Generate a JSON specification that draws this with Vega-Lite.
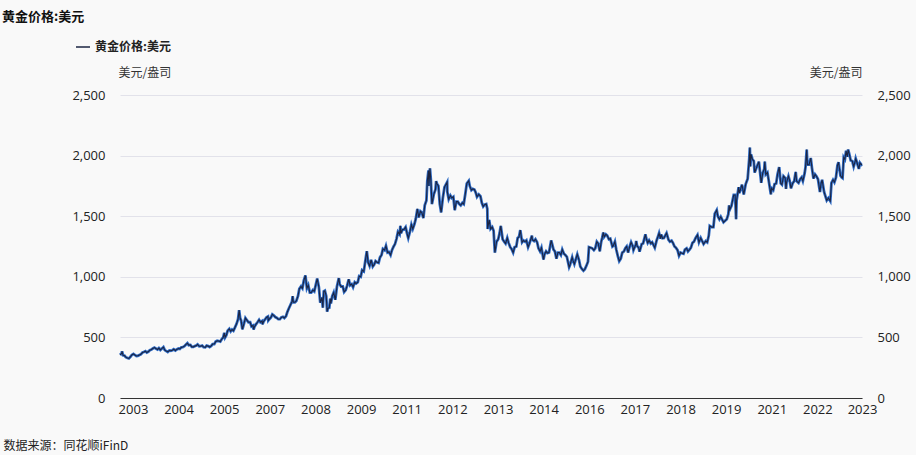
{
 "$schema": "https://vega.github.io/schema/vega-lite/v6.json",
 "width": 742, "height": 303,
 "autosize": {"type": "none"},
 "padding": {"left": 120, "right": 54, "top": 95, "bottom": 57},
 "background": "#f9f9f9",
 "title": {"text": "黄金价格:美元", "anchor": "start", "frame": "group", "dx": -118, "offset": 15, "fontSize": 13, "fontWeight": "bold", "font": "Noto Sans CJK SC", "color": "#111111"},
 "config": {"view": {"stroke": null}},
 "data": {"values": [
{"d":"2003-01-15","v":356},{"d":"2003-02-01","v":368},{"d":"2003-02-05","v":385},{"d":"2003-02-15","v":352},{"d":"2003-03-01","v":350},{"d":"2003-03-15","v":337},{"d":"2003-04-01","v":330},{"d":"2003-04-15","v":327},{"d":"2003-05-01","v":340},{"d":"2003-05-15","v":355},{"d":"2003-06-01","v":364},{"d":"2003-06-15","v":355},{"d":"2003-07-01","v":347},{"d":"2003-07-15","v":348},{"d":"2003-08-01","v":355},{"d":"2003-08-15","v":360},{"d":"2003-09-01","v":375},{"d":"2003-09-15","v":379},{"d":"2003-10-01","v":386},{"d":"2003-10-15","v":375},{"d":"2003-11-01","v":383},{"d":"2003-11-15","v":395},{"d":"2003-12-01","v":400},{"d":"2003-12-15","v":408},
{"d":"2004-01-01","v":416},{"d":"2004-01-15","v":408},{"d":"2004-02-01","v":400},{"d":"2004-02-15","v":412},{"d":"2004-03-01","v":397},{"d":"2004-03-15","v":407},{"d":"2004-04-01","v":420},{"d":"2004-04-15","v":395},{"d":"2004-05-01","v":387},{"d":"2004-05-15","v":380},{"d":"2004-06-01","v":392},{"d":"2004-06-15","v":390},{"d":"2004-07-01","v":394},{"d":"2004-07-15","v":402},{"d":"2004-08-01","v":392},{"d":"2004-08-15","v":401},{"d":"2004-09-01","v":408},{"d":"2004-09-15","v":405},{"d":"2004-10-01","v":418},{"d":"2004-10-15","v":420},{"d":"2004-11-01","v":428},{"d":"2004-11-15","v":440},{"d":"2004-12-01","v":452},{"d":"2004-12-15","v":436},
{"d":"2005-01-01","v":438},{"d":"2005-01-15","v":422},{"d":"2005-02-01","v":422},{"d":"2005-02-15","v":428},{"d":"2005-03-01","v":432},{"d":"2005-03-15","v":442},{"d":"2005-04-01","v":427},{"d":"2005-04-15","v":428},{"d":"2005-05-01","v":432},{"d":"2005-05-15","v":420},{"d":"2005-06-01","v":418},{"d":"2005-06-15","v":432},{"d":"2005-07-01","v":428},{"d":"2005-07-15","v":421},{"d":"2005-08-01","v":430},{"d":"2005-08-15","v":445},{"d":"2005-09-01","v":445},{"d":"2005-09-15","v":465},{"d":"2005-10-01","v":472},{"d":"2005-10-15","v":470},{"d":"2005-11-01","v":465},{"d":"2005-11-15","v":485},{"d":"2005-12-01","v":500},{"d":"2005-12-12","v":537},{"d":"2005-12-20","v":500},
{"d":"2006-01-01","v":517},{"d":"2006-01-15","v":555},{"d":"2006-02-01","v":570},{"d":"2006-02-15","v":550},{"d":"2006-03-01","v":565},{"d":"2006-03-15","v":555},{"d":"2006-04-01","v":585},{"d":"2006-04-15","v":610},{"d":"2006-05-01","v":650},{"d":"2006-05-12","v":725},{"d":"2006-05-22","v":660},{"d":"2006-06-01","v":640},{"d":"2006-06-14","v":567},{"d":"2006-07-01","v":615},{"d":"2006-07-15","v":660},{"d":"2006-08-01","v":640},{"d":"2006-08-15","v":625},{"d":"2006-09-01","v":625},{"d":"2006-09-15","v":590},{"d":"2006-10-01","v":598},{"d":"2006-10-06","v":565},{"d":"2006-10-15","v":587},{"d":"2006-11-01","v":610},{"d":"2006-11-15","v":625},{"d":"2006-12-01","v":645},{"d":"2006-12-15","v":625},
{"d":"2007-01-01","v":635},{"d":"2007-01-05","v":608},{"d":"2007-01-15","v":630},{"d":"2007-02-01","v":650},{"d":"2007-02-15","v":665},{"d":"2007-03-01","v":672},{"d":"2007-03-05","v":640},{"d":"2007-03-15","v":650},{"d":"2007-04-01","v":665},{"d":"2007-04-15","v":690},{"d":"2007-05-01","v":680},{"d":"2007-05-15","v":668},{"d":"2007-06-01","v":660},{"d":"2007-06-15","v":650},{"d":"2007-07-01","v":650},{"d":"2007-07-15","v":665},{"d":"2007-08-01","v":670},{"d":"2007-08-15","v":660},{"d":"2007-09-01","v":675},{"d":"2007-09-15","v":710},{"d":"2007-10-01","v":740},{"d":"2007-10-15","v":765},{"d":"2007-11-01","v":795},{"d":"2007-11-08","v":841},{"d":"2007-11-15","v":790},{"d":"2007-12-01","v":790},{"d":"2007-12-15","v":800},
{"d":"2008-01-01","v":840},{"d":"2008-01-15","v":900},{"d":"2008-02-01","v":920},{"d":"2008-02-15","v":905},{"d":"2008-03-01","v":970},{"d":"2008-03-17","v":1011},{"d":"2008-04-01","v":905},{"d":"2008-04-15","v":930},{"d":"2008-05-01","v":870},{"d":"2008-05-15","v":870},{"d":"2008-06-01","v":890},{"d":"2008-06-15","v":880},{"d":"2008-07-01","v":935},{"d":"2008-07-15","v":985},{"d":"2008-08-01","v":915},{"d":"2008-08-15","v":786},{"d":"2008-09-01","v":830},{"d":"2008-09-10","v":745},{"d":"2008-09-20","v":880},{"d":"2008-10-01","v":885},{"d":"2008-10-15","v":840},{"d":"2008-10-24","v":712},{"d":"2008-11-01","v":740},{"d":"2008-11-15","v":745},{"d":"2008-11-25","v":820},{"d":"2008-12-01","v":780},{"d":"2008-12-15","v":840},{"d":"2008-12-30","v":870},
{"d":"2009-01-15","v":810},{"d":"2009-02-01","v":920},{"d":"2009-02-20","v":989},{"d":"2009-03-01","v":940},{"d":"2009-03-15","v":920},{"d":"2009-04-01","v":920},{"d":"2009-04-15","v":875},{"d":"2009-05-01","v":890},{"d":"2009-05-15","v":925},{"d":"2009-06-01","v":980},{"d":"2009-06-15","v":930},{"d":"2009-07-01","v":940},{"d":"2009-07-15","v":915},{"d":"2009-08-01","v":955},{"d":"2009-08-15","v":945},{"d":"2009-09-01","v":955},{"d":"2009-09-15","v":1005},{"d":"2009-10-01","v":1000},{"d":"2009-10-15","v":1055},{"d":"2009-11-01","v":1045},{"d":"2009-11-15","v":1120},{"d":"2009-12-02","v":1212},{"d":"2009-12-15","v":1120},{"d":"2009-12-30","v":1090},
{"d":"2010-01-15","v":1140},{"d":"2010-02-01","v":1085},{"d":"2010-02-15","v":1100},{"d":"2010-03-01","v":1130},{"d":"2010-03-15","v":1120},{"d":"2010-04-01","v":1115},{"d":"2010-04-15","v":1160},{"d":"2010-05-01","v":1180},{"d":"2010-05-15","v":1230},{"d":"2010-06-01","v":1220},{"d":"2010-06-15","v":1255},{"d":"2010-07-01","v":1200},{"d":"2010-07-15","v":1205},{"d":"2010-08-01","v":1180},{"d":"2010-08-15","v":1220},{"d":"2010-09-01","v":1250},{"d":"2010-09-15","v":1270},{"d":"2010-10-01","v":1315},{"d":"2010-10-15","v":1370},{"d":"2010-11-01","v":1350},{"d":"2010-11-09","v":1420},{"d":"2010-11-15","v":1360},{"d":"2010-12-01","v":1390},{"d":"2010-12-15","v":1390},
{"d":"2011-01-01","v":1410},{"d":"2011-01-15","v":1360},{"d":"2011-01-28","v":1320},{"d":"2011-02-15","v":1375},{"d":"2011-03-01","v":1430},{"d":"2011-03-15","v":1395},{"d":"2011-04-01","v":1435},{"d":"2011-04-15","v":1480},{"d":"2011-05-01","v":1560},{"d":"2011-05-15","v":1490},{"d":"2011-06-01","v":1540},{"d":"2011-06-15","v":1530},{"d":"2011-07-01","v":1485},{"d":"2011-07-15","v":1590},{"d":"2011-08-01","v":1630},{"d":"2011-08-10","v":1790},{"d":"2011-08-22","v":1877},{"d":"2011-08-26","v":1750},{"d":"2011-09-06","v":1895},{"d":"2011-09-15","v":1800},{"d":"2011-09-26","v":1600},{"d":"2011-10-01","v":1620},{"d":"2011-10-15","v":1680},{"d":"2011-11-01","v":1720},{"d":"2011-11-08","v":1790},{"d":"2011-11-15","v":1770},{"d":"2011-12-01","v":1750},{"d":"2011-12-15","v":1600},{"d":"2011-12-29","v":1531},
{"d":"2012-01-15","v":1650},{"d":"2012-02-01","v":1740},{"d":"2012-02-28","v":1781},{"d":"2012-03-01","v":1700},{"d":"2012-03-15","v":1640},{"d":"2012-04-01","v":1670},{"d":"2012-04-15","v":1650},{"d":"2012-05-01","v":1660},{"d":"2012-05-15","v":1550},{"d":"2012-06-01","v":1620},{"d":"2012-06-15","v":1620},{"d":"2012-07-01","v":1600},{"d":"2012-07-15","v":1590},{"d":"2012-08-01","v":1610},{"d":"2012-08-15","v":1600},{"d":"2012-09-01","v":1690},{"d":"2012-09-15","v":1770},{"d":"2012-10-05","v":1792},{"d":"2012-10-15","v":1750},{"d":"2012-11-01","v":1715},{"d":"2012-11-15","v":1725},{"d":"2012-12-01","v":1720},{"d":"2012-12-15","v":1695},{"d":"2012-12-28","v":1660},
{"d":"2013-01-15","v":1680},{"d":"2013-02-01","v":1665},{"d":"2013-02-15","v":1610},{"d":"2013-03-01","v":1580},{"d":"2013-03-15","v":1595},{"d":"2013-04-01","v":1600},{"d":"2013-04-12","v":1560},{"d":"2013-04-15","v":1395},{"d":"2013-05-01","v":1470},{"d":"2013-05-15","v":1395},{"d":"2013-06-01","v":1410},{"d":"2013-06-15","v":1380},{"d":"2013-06-28","v":1200},{"d":"2013-07-15","v":1290},{"d":"2013-08-01","v":1310},{"d":"2013-08-15","v":1360},{"d":"2013-08-27","v":1420},{"d":"2013-09-15","v":1310},{"d":"2013-10-01","v":1290},{"d":"2013-10-15","v":1275},{"d":"2013-11-01","v":1320},{"d":"2013-11-15","v":1280},{"d":"2013-12-01","v":1245},{"d":"2013-12-15","v":1230},{"d":"2013-12-31","v":1200},
{"d":"2014-01-15","v":1245},{"d":"2014-02-01","v":1250},{"d":"2014-02-15","v":1320},{"d":"2014-03-01","v":1330},{"d":"2014-03-14","v":1385},{"d":"2014-04-01","v":1285},{"d":"2014-04-15","v":1300},{"d":"2014-05-01","v":1290},{"d":"2014-05-15","v":1300},{"d":"2014-06-01","v":1245},{"d":"2014-06-15","v":1275},{"d":"2014-07-10","v":1340},{"d":"2014-07-15","v":1305},{"d":"2014-08-01","v":1295},{"d":"2014-08-15","v":1310},{"d":"2014-09-01","v":1285},{"d":"2014-09-15","v":1235},{"d":"2014-10-01","v":1210},{"d":"2014-10-15","v":1240},{"d":"2014-11-05","v":1142},{"d":"2014-11-15","v":1185},{"d":"2014-12-01","v":1210},{"d":"2014-12-15","v":1195},{"d":"2014-12-31","v":1200},
{"d":"2015-01-22","v":1300},{"d":"2015-02-01","v":1270},{"d":"2015-02-15","v":1225},{"d":"2015-03-01","v":1210},{"d":"2015-03-17","v":1150},{"d":"2015-04-01","v":1200},{"d":"2015-04-15","v":1200},{"d":"2015-05-01","v":1180},{"d":"2015-05-15","v":1225},{"d":"2015-06-01","v":1190},{"d":"2015-06-15","v":1180},{"d":"2015-07-01","v":1165},{"d":"2015-07-24","v":1080},{"d":"2015-08-01","v":1095},{"d":"2015-08-24","v":1160},{"d":"2015-09-01","v":1135},{"d":"2015-09-15","v":1105},{"d":"2015-10-15","v":1185},{"d":"2015-11-01","v":1140},{"d":"2015-11-15","v":1085},{"d":"2015-12-01","v":1065},{"d":"2015-12-17","v":1050},{"d":"2015-12-31","v":1062},
{"d":"2016-01-15","v":1090},{"d":"2016-02-01","v":1125},{"d":"2016-02-11","v":1245},{"d":"2016-03-01","v":1240},{"d":"2016-03-15","v":1235},{"d":"2016-04-01","v":1220},{"d":"2016-04-15","v":1235},{"d":"2016-05-01","v":1290},{"d":"2016-05-15","v":1275},{"d":"2016-05-31","v":1210},{"d":"2016-06-15","v":1290},{"d":"2016-06-24","v":1320},{"d":"2016-07-06","v":1366},{"d":"2016-07-15","v":1330},{"d":"2016-08-01","v":1350},{"d":"2016-08-15","v":1340},{"d":"2016-09-01","v":1310},{"d":"2016-09-15","v":1315},{"d":"2016-10-07","v":1250},{"d":"2016-10-15","v":1255},{"d":"2016-11-01","v":1290},{"d":"2016-11-15","v":1225},{"d":"2016-12-01","v":1170},{"d":"2016-12-15","v":1130},{"d":"2016-12-31","v":1150},
{"d":"2017-01-15","v":1200},{"d":"2017-02-01","v":1210},{"d":"2017-02-15","v":1235},{"d":"2017-03-01","v":1250},{"d":"2017-03-15","v":1200},{"d":"2017-04-01","v":1250},{"d":"2017-04-15","v":1285},{"d":"2017-05-01","v":1255},{"d":"2017-05-09","v":1220},{"d":"2017-06-01","v":1265},{"d":"2017-06-06","v":1295},{"d":"2017-06-15","v":1255},{"d":"2017-07-01","v":1240},{"d":"2017-07-10","v":1208},{"d":"2017-08-01","v":1270},{"d":"2017-08-15","v":1275},{"d":"2017-09-08","v":1350},{"d":"2017-09-15","v":1320},{"d":"2017-10-01","v":1280},{"d":"2017-10-15","v":1300},{"d":"2017-11-01","v":1275},{"d":"2017-11-15","v":1285},{"d":"2017-12-12","v":1240},{"d":"2017-12-31","v":1300},
{"d":"2018-01-15","v":1335},{"d":"2018-01-25","v":1360},{"d":"2018-02-08","v":1315},{"d":"2018-02-15","v":1350},{"d":"2018-03-01","v":1318},{"d":"2018-03-15","v":1320},{"d":"2018-04-11","v":1360},{"d":"2018-04-20","v":1335},{"d":"2018-05-01","v":1305},{"d":"2018-05-15","v":1290},{"d":"2018-06-01","v":1298},{"d":"2018-06-15","v":1280},{"d":"2018-07-01","v":1250},{"d":"2018-07-15","v":1240},{"d":"2018-08-01","v":1220},{"d":"2018-08-16","v":1174},{"d":"2018-09-01","v":1200},{"d":"2018-09-15","v":1195},{"d":"2018-10-01","v":1190},{"d":"2018-10-15","v":1225},{"d":"2018-11-01","v":1235},{"d":"2018-11-15","v":1210},{"d":"2018-12-01","v":1225},{"d":"2018-12-15","v":1240},{"d":"2018-12-31","v":1280},
{"d":"2019-01-15","v":1290},{"d":"2019-02-01","v":1320},{"d":"2019-02-20","v":1345},{"d":"2019-03-07","v":1285},{"d":"2019-03-25","v":1320},{"d":"2019-04-23","v":1270},{"d":"2019-05-15","v":1295},{"d":"2019-05-30","v":1285},{"d":"2019-06-15","v":1340},{"d":"2019-06-25","v":1420},{"d":"2019-07-15","v":1410},{"d":"2019-08-01","v":1410},{"d":"2019-08-15","v":1520},{"d":"2019-09-04","v":1550},{"d":"2019-09-15","v":1500},{"d":"2019-10-01","v":1475},{"d":"2019-10-15","v":1495},{"d":"2019-11-12","v":1450},{"d":"2019-11-25","v":1460},{"d":"2019-12-15","v":1475},{"d":"2019-12-31","v":1517},
{"d":"2020-01-08","v":1590},{"d":"2020-01-15","v":1555},{"d":"2020-02-01","v":1585},{"d":"2020-02-24","v":1675},{"d":"2020-03-09","v":1675},{"d":"2020-03-19","v":1475},{"d":"2020-03-24","v":1630},{"d":"2020-04-14","v":1740},{"d":"2020-04-21","v":1690},{"d":"2020-05-18","v":1760},{"d":"2020-06-05","v":1680},{"d":"2020-06-25","v":1765},{"d":"2020-07-15","v":1810},{"d":"2020-07-31","v":1975},{"d":"2020-08-06","v":2067},{"d":"2020-08-11","v":1910},{"d":"2020-08-18","v":2010},{"d":"2020-09-01","v":1970},{"d":"2020-09-15","v":1955},{"d":"2020-09-24","v":1860},{"d":"2020-10-15","v":1905},{"d":"2020-11-06","v":1950},{"d":"2020-11-30","v":1775},{"d":"2020-12-15","v":1855},{"d":"2020-12-31","v":1890},
{"d":"2021-01-05","v":1950},{"d":"2021-01-15","v":1845},{"d":"2021-02-01","v":1860},{"d":"2021-02-15","v":1790},{"d":"2021-03-08","v":1680},{"d":"2021-03-15","v":1730},{"d":"2021-04-01","v":1715},{"d":"2021-04-15","v":1765},{"d":"2021-05-01","v":1770},{"d":"2021-05-15","v":1845},{"d":"2021-06-01","v":1905},{"d":"2021-06-17","v":1770},{"d":"2021-06-29","v":1760},{"d":"2021-07-15","v":1830},{"d":"2021-08-01","v":1815},{"d":"2021-08-09","v":1725},{"d":"2021-08-15","v":1780},{"d":"2021-09-03","v":1830},{"d":"2021-09-15","v":1795},{"d":"2021-09-29","v":1730},{"d":"2021-10-15","v":1770},{"d":"2021-11-01","v":1790},{"d":"2021-11-16","v":1865},{"d":"2021-11-25","v":1790},{"d":"2021-12-15","v":1775},{"d":"2021-12-31","v":1805},
{"d":"2022-01-15","v":1820},{"d":"2022-01-28","v":1790},{"d":"2022-02-15","v":1855},{"d":"2022-02-24","v":1905},{"d":"2022-03-08","v":2050},{"d":"2022-03-15","v":1925},{"d":"2022-04-01","v":1925},{"d":"2022-04-18","v":1980},{"d":"2022-05-01","v":1895},{"d":"2022-05-16","v":1810},{"d":"2022-06-01","v":1845},{"d":"2022-06-15","v":1830},{"d":"2022-07-01","v":1805},{"d":"2022-07-21","v":1700},{"d":"2022-08-01","v":1770},{"d":"2022-08-12","v":1800},{"d":"2022-09-01","v":1700},{"d":"2022-09-28","v":1630},{"d":"2022-10-15","v":1650},{"d":"2022-11-03","v":1625},{"d":"2022-11-15","v":1775},{"d":"2022-12-01","v":1800},{"d":"2022-12-15","v":1780},{"d":"2022-12-31","v":1820},
{"d":"2023-01-15","v":1920},{"d":"2023-01-26","v":1945},{"d":"2023-02-15","v":1835},{"d":"2023-02-28","v":1820},{"d":"2023-03-08","v":1815},{"d":"2023-03-20","v":1985},{"d":"2023-04-01","v":1970},{"d":"2023-04-13","v":2040},{"d":"2023-04-25","v":1990},{"d":"2023-05-04","v":2050},{"d":"2023-05-15","v":2015},{"d":"2023-05-30","v":1960},{"d":"2023-06-15","v":1955},{"d":"2023-06-29","v":1910},{"d":"2023-07-15","v":1955},{"d":"2023-07-20","v":1975},{"d":"2023-08-01","v":1945},{"d":"2023-08-21","v":1890},{"d":"2023-09-01","v":1940},{"d":"2023-09-15","v":1925},{"d":"2023-09-22","v":1930}
 ]},
 "encoding": {
  "x": {"field": "d", "type": "temporal",
   "axis": {"values": ["2003-05-27","2004-09-02","2005-12-10","2007-03-20","2008-06-27","2009-10-05","2011-01-12","2012-04-21","2013-07-30","2014-11-06","2016-02-14","2017-05-23","2018-08-31","2019-12-08","2021-03-17","2022-06-24","2023-09-22"],
    "labelExpr": "timeFormat(datum.value, '%Y')", "grid": false, "ticks": false,
    "domain": true, "domainColor": "#333333", "domainWidth": 1,
    "labelFont": "Open Sans", "labelFontSize": 13, "labelColor": "#222222", "labelPadding": 5, "labelOverlap": false, "labelFlush": false,
    "title": "数据来源：同花顺iFinD", "titleFont": "Noto Sans CJK SC", "titleFontSize": 12, "titleFontWeight": "normal", "titleColor": "#222222",
    "titleX": -117, "titleY": 47, "titleAlign": "left", "titleBaseline": "middle", "titleAnchor": null}}
 },
 "layer": [
  {"mark": {"type": "line", "color": "#2f6cc6", "strokeWidth": 2.8},
   "encoding": {"y": {"field": "v", "type": "quantitative", "scale": {"domain": [0, 2500]},
    "axis": {"orient": "left", "values": [0, 500, 1000, 1500, 2000, 2500], "format": ",.0f", "grid": true, "gridColor": "#e2e2ea", "gridWidth": 1, "domain": false, "ticks": false,
     "labelFont": "Open Sans", "labelFontSize": 13, "labelColor": "#222222", "labelPadding": 15,
     "title": "美元/盎司", "titleFont": "Noto Sans CJK SC", "titleFontSize": 12, "titleFontWeight": "normal", "titleColor": "#333333",
     "titleAngle": 0, "titleX": -2, "titleY": -23, "titleAlign": "left", "titleBaseline": "middle"}}}},
  {"mark": {"type": "line", "strokeWidth": 1.1},
   "encoding": {"y": {"field": "v", "type": "quantitative", "scale": {"domain": [0, 2500]},
    "axis": {"orient": "right", "values": [0, 500, 1000, 1500, 2000, 2500], "format": ",.0f", "grid": false, "domain": false, "ticks": false,
     "labelFont": "Open Sans", "labelFontSize": 13, "labelColor": "#222222", "labelPadding": 15,
     "title": "美元/盎司", "titleFont": "Noto Sans CJK SC", "titleFontSize": 12, "titleFontWeight": "normal", "titleColor": "#333333",
     "titleAngle": 0, "titleX": 0, "titleY": -23, "titleAlign": "right", "titleBaseline": "middle"}},
    "color": {"datum": "黄金价格:美元", "type": "nominal", "scale": {"range": ["#1b2442"]},
     "legend": {"orient": "none", "legendX": -45, "legendY": -56, "title": null, "symbolType": "stroke", "symbolSize": 196, "symbolStrokeWidth": 1.5,
      "labelFont": "Noto Sans CJK SC", "labelFontSize": 12, "labelColor": "#222222", "labelFontWeight": "bold", "labelOffset": 4}}}}
 ],
 "resolve": {"scale": {"y": "independent"}}
}
